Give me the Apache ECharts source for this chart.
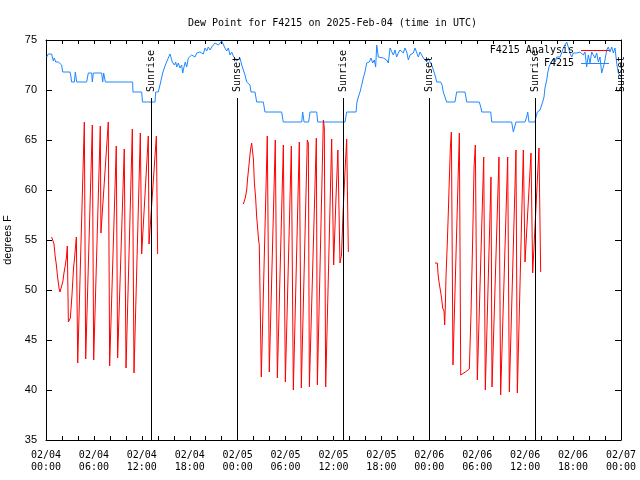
<!DOCTYPE html>
<html><head><meta charset="utf-8">
<script src="https://cdn.jsdelivr.net/npm/echarts@6/dist/echarts.min.js"></script>
<style>html,body{margin:0;padding:0;background:#fff}#c{width:640px;height:480px}</style>
</head><body><div id="c"></div>
<script>
// hours since 2025-02-04 00:00 UTC
const xTickLabels = ['02/04\n00:00','02/04\n06:00','02/04\n12:00','02/04\n18:00','02/05\n00:00','02/05\n06:00','02/05\n12:00','02/05\n18:00','02/06\n00:00','02/06\n06:00','02/06\n12:00','02/06\n18:00','02/07\n00:00'];

const sunEvents = [[13.17,'Sunrise'],[23.96,'Sunset'],[37.28,'Sunrise'],[48.0,'Sunset'],[61.27,'Sunrise'],[72.0,'Sunset']];

const blueValues = [[0.09,73.3],[0.29,73.6],[0.71,73.6],[0.79,73.3],[0.92,72.9],[1.04,73.2],[1.21,72.8],[1.34,72.7],[1.54,72.8],[1.75,72.8],[1.96,72.5],[2.09,71.8],[3.01,71.8],[3.13,71.3],[3.21,70.8],[3.55,70.8],[3.67,71.8],[3.76,71.3],[3.84,70.8],[5.09,70.8],[5.3,71.7],[5.72,71.7],[5.8,70.8],[5.93,71.7],[6.97,71.7],[7.1,70.8],[7.22,71.7],[7.43,70.8],[10.85,70.8],[10.89,69.8],[11.98,69.8],[12.08,68.8],[13.65,68.8],[13.74,69.8],[14.06,69.8],[14.36,70.8],[14.61,71.7],[14.9,72.4],[15.31,73.2],[15.53,73.6],[15.61,73.4],[15.82,72.8],[16.07,72.5],[16.24,72.8],[16.37,72.3],[16.57,72.7],[16.78,72.2],[16.99,72.5],[17.12,71.7],[17.28,72.3],[17.44,72.8],[17.62,72.3],[17.82,73.2],[18.03,73.0],[18.24,73.5],[18.44,73.7],[18.66,73.3],[18.87,73.7],[19.07,73.6],[19.28,73.8],[19.5,74.0],[19.7,73.6],[19.91,74.2],[20.12,73.9],[20.32,74.3],[20.54,74.0],[20.75,74.3],[20.95,74.2],[21.16,74.7],[21.37,74.8],[21.58,74.5],[21.79,74.4],[22.0,74.9],[22.2,74.7],[22.41,74.2],[22.63,73.9],[22.83,74.2],[23.04,73.5],[23.25,73.8],[23.45,73.4],[23.67,73.6],[23.88,72.9],[24.08,73.0],[24.29,73.2],[24.51,72.5],[24.71,72.0],[24.92,71.5],[25.13,70.8],[25.33,70.7],[25.54,70.5],[25.67,69.8],[26.17,69.8],[26.38,68.8],[27.21,68.8],[27.42,67.8],[29.51,67.8],[29.71,66.8],[32.02,66.8],[32.14,67.8],[32.31,66.8],[32.89,66.8],[33.06,67.8],[33.9,67.8],[34.02,66.8],[37.44,66.8],[37.65,67.8],[38.82,67.8],[38.94,68.8],[39.11,69.3],[39.32,69.8],[39.53,70.5],[39.73,71.2],[39.94,71.8],[40.16,72.7],[40.36,72.5],[40.48,72.8],[40.7,73.2],[40.91,72.7],[41.11,73.0],[41.28,72.3],[41.41,74.5],[41.61,73.3],[41.82,73.2],[42.24,73.2],[42.66,73.0],[42.86,72.7],[43.08,74.2],[43.29,74.3],[43.49,73.5],[43.7,74.0],[43.91,73.3],[44.11,73.7],[44.33,74.0],[44.54,74.2],[44.74,73.7],[44.95,74.2],[45.17,73.8],[45.37,73.0],[45.58,73.5],[45.79,73.3],[45.99,73.7],[46.21,74.2],[46.42,74.0],[46.62,73.3],[46.83,73.8],[47.04,73.7],[47.25,73.2],[47.46,73.2],[47.67,72.8],[47.87,73.2],[48.08,72.8],[48.3,72.5],[48.5,72.0],[48.71,71.5],[48.92,70.8],[49.42,70.8],[49.59,70.5],[49.75,69.8],[49.96,69.7],[50.17,68.8],[51.21,68.8],[51.42,69.8],[52.47,69.8],[52.68,68.8],[54.26,68.8],[54.47,68.2],[54.56,67.8],[55.69,67.8],[55.81,66.8],[58.31,66.8],[58.52,65.8],[58.73,65.8],[58.85,66.8],[59.98,66.8],[60.19,67.3],[60.32,67.8],[60.48,66.8],[61.23,66.8],[61.36,67.3],[61.52,67.8],[61.86,68.0],[62.07,68.5],[62.27,69.0],[62.36,69.3],[62.48,70.2],[62.7,71.0],[62.82,71.7],[62.98,72.3],[63.2,72.7],[63.4,72.8],[63.61,73.2],[63.74,72.8],[63.95,73.3],[64.15,73.5],[64.36,73.3],[64.57,73.7],[64.78,74.2],[64.99,74.0],[65.2,74.8],[65.4,74.3],[65.61,73.7],[65.83,73.3],[66.03,73.7],[66.24,73.5],[66.45,73.7],[66.65,73.5],[66.87,73.8],[67.08,73.7],[67.28,73.5],[67.49,73.8],[67.7,72.3],[67.91,73.5],[68.12,72.7],[68.33,73.8],[68.53,74.0],[68.74,73.2],[68.96,73.7],[69.16,72.8],[69.37,73.3],[69.58,71.7],[69.79,72.3],[70.0,73.0],[70.21,74.0],[70.41,74.3],[70.62,73.8],[70.84,74.3],[71.04,73.7],[71.25,74.2],[71.46,72.7],[71.66,71.7],[71.87,71.5],[72.0,71.3]];

const redDay1 = [[0.71,55.3],[0.92,55.3],[1.0,54.6],[1.13,53.5],[1.3,52.5],[1.45,51.3],[1.63,50.2],[1.75,49.8],[1.84,50.0],[1.96,49.6],[2.1,50.8],[2.25,51.7],[2.4,52.4],[2.55,53.2],[2.67,54.4],[2.8,46.8],[2.92,46.6],[3.05,47.2],[3.26,49.6],[3.45,52.2],[3.59,53.3],[3.8,55.3],[3.97,42.7],[4.8,66.8],[4.97,43.1],[5.8,66.5],[5.97,43.0],[6.8,66.4],[6.88,55.7],[7.09,55.7],[7.8,66.8],[7.97,42.4],[8.8,64.4],[8.97,43.2],[9.8,64.1],[10.02,42.2],[10.81,66.1],[11.02,41.7],[11.81,65.7],[11.98,53.6],[12.81,65.4],[12.9,54.6],[13.02,54.6],[13.82,65.4],[13.98,53.6]];

const redDay2 = [[24.71,58.6],[24.85,58.7],[24.95,59.2],[25.13,60.0],[25.25,61.2],[25.38,62.2],[25.5,63.2],[25.62,64.1],[25.75,64.7],[25.88,64.7],[25.97,63.1],[26.09,60.8],[26.25,59.2],[26.38,57.3],[26.5,56.2],[26.62,55.0],[26.71,54.5],[26.84,54.3],[26.96,41.3],[27.71,65.4],[27.96,41.8],[28.71,65.0],[28.84,65.0],[28.97,41.2],[29.72,64.5],[29.84,64.5],[29.97,40.8],[30.72,64.4],[30.85,64.2],[30.97,40.0],[31.72,64.8],[31.85,64.8],[31.97,40.2],[32.72,65.0],[32.85,64.7],[32.98,40.3],[33.85,65.2],[33.98,40.5],[34.73,67.0],[34.85,66.2],[35.02,40.3],[35.77,65.1],[36.02,52.5],[36.3,59.0],[36.55,64.0],[36.65,63.8],[36.81,52.7],[37.0,53.5],[37.2,57.8],[37.45,62.0],[37.65,65.1],[37.75,59.5],[37.86,53.8]];

const redDay3 = [[48.71,52.7],[49.0,52.7],[49.1,51.5],[49.25,50.6],[49.42,49.8],[49.55,49.1],[49.67,48.2],[49.84,47.9],[49.92,46.5],[50.0,48.3],[50.09,51.4],[50.25,54.7],[50.38,57.8],[50.5,61.0],[50.63,64.2],[50.76,65.8],[50.96,42.5],[51.76,65.7],[51.93,41.5],[52.5,41.8],[53.01,42.1],[53.22,47.7],[53.43,55.2],[53.6,62.3],[53.76,64.5],[53.84,64.5],[54.01,41.0],[54.81,63.3],[55.01,40.0],[55.72,61.3],[55.85,40.3],[56.72,63.3],[56.93,39.5],[57.81,63.3],[58.02,39.8],[58.85,64.0],[59.02,39.7],[59.77,64.0],[59.98,52.8],[60.73,63.7],[60.94,51.7],[61.73,64.2],[61.94,51.8]];

const mono = 'DejaVu Sans Mono';
const sans = 'Liberation Sans';
const RED = '#ff0000', BLUE = '#1e88ff';
const lineTop = 69.2;

const sunLabel = {show:true, position:'insideStart', distance:6, opacity:1, color:'#000', fontFamily:mono, fontSize:10};
const markData = [];
sunEvents.forEach(([t, name]) => {
  markData.push([{coord:[t, 35]}, {coord:[t, lineTop]}]);
  const lbl = Object.assign({}, sunLabel, {formatter:name});
  markData.push([
    {coord:[t, lineTop], lineStyle:{color:'rgba(0,0,0,0)'}, label:lbl},
    {coord:[t, 75], lineStyle:{color:'rgba(0,0,0,0)'}, label:lbl}
  ]);
});

function xAxisCfg(pos, showLabel){
  return {
    type:'value', position:pos, min:0, max:72, interval:6,
    axisLine:{show:true, onZero:false, lineStyle:{color:'#000', width:1}},
    axisTick:{show:true, inside:true, length:4, lineStyle:{color:'#000'}},
    minorTick:{show:true, splitNumber:3, length:4, lineStyle:{color:'#000'}},
    splitLine:{show:false},
    axisLabel:{show:showLabel, margin:9, fontFamily:mono, fontSize:10, lineHeight:12, color:'#000',
      showMinLabel:true, showMaxLabel:true,
      formatter:v => xTickLabels[Math.round(v/6)] || ''}
  };
}
function yAxisCfg(pos, showLabel){
  return {
    type:'value', position:pos, min:35, max:75, interval:5,
    axisLine:{show:true, onZero:false, lineStyle:{color:'#000', width:1}},
    axisTick:{show:true, inside:true, length:6, lineStyle:{color:'#000'}},
    splitLine:{show:false},
    axisLabel:{show:showLabel, margin:9, fontFamily:sans, fontSize:11, color:'#000'},
    name: showLabel ? 'degrees F' : '', nameLocation:'middle', nameGap:26, nameRotate:90,
    nameTextStyle:{fontFamily:sans, fontSize:11, color:'#000'}
  };
}

const chart = echarts.init(document.getElementById('c'), null, {renderer:'canvas'});
const redStyle = {color:RED, itemStyle:{color:RED}, lineStyle:{color:RED, width:1}};
chart.setOption({
  animation:false,
  backgroundColor:'#fff',
  title:{text:'Dew Point for F4215 on 2025-Feb-04 (time in UTC)', left:183, top:13,
    textStyle:{fontFamily:mono, fontSize:10, fontWeight:'normal', color:'#000'}},
  grid:{left:46, right:19, top:40, bottom:40, containLabel:false, outerBoundsMode:'none'},
  legend:{orient:'vertical', right:31, top:44, padding:0, align:'right', icon:'rect',
    itemWidth:28, itemHeight:1, itemGap:0, selectedMode:false,
    textStyle:{fontFamily:mono, fontSize:10, color:'#000', lineHeight:13, padding:[0,2,0,0]},
    data:['F4215 Analysis','F4215']},
  xAxis:[xAxisCfg('bottom', true), xAxisCfg('top', false)],
  yAxis:[yAxisCfg('left', true), yAxisCfg('right', false)],
  series:[
    {name:'F4215', type:'line', data:blueValues, showSymbol:false, symbol:'none', clip:false,
      color:BLUE, itemStyle:{color:BLUE}, lineStyle:{color:BLUE, width:1},
      markLine:{silent:true, symbol:['none','none'], animation:false,
        lineStyle:{color:'#000', width:1, type:'solid'},
        label:{show:false, color:'#000', fontFamily:mono, fontSize:10},
        emphasis:{disabled:true},
        data:markData}},
    Object.assign({name:'F4215 Analysis', type:'line', data:redDay1, showSymbol:false, symbol:'none'}, redStyle),
    Object.assign({name:'F4215 Analysis', type:'line', data:redDay2, showSymbol:false, symbol:'none'}, redStyle),
    Object.assign({name:'F4215 Analysis', type:'line', data:redDay3, showSymbol:false, symbol:'none'}, redStyle)
  ]
});
</script>
</body></html>
